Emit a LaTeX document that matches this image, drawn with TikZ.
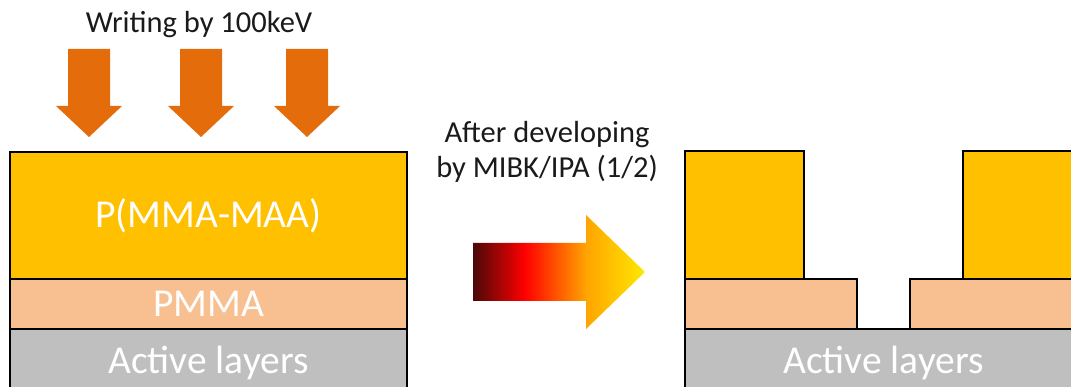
\documentclass[tikz,border=0pt]{standalone}
\usepackage{fontspec}
\setmainfont{Carlito}
\definecolor{resist}{HTML}{FFC000}
\definecolor{pmma}{HTML}{F8C091}
\definecolor{active}{HTML}{BFBFBF}
\definecolor{beam}{HTML}{E46C0A}
\definecolor{ink}{HTML}{1A1A1A}
\definecolor{gdark}{HTML}{4A0808}
\definecolor{gred}{HTML}{FF0000}
\definecolor{gorange}{HTML}{FFA500}
\definecolor{gyellow}{HTML}{FFE800}
\pgfdeclarehorizontalshading{devgrad}{100bp}{%
  color(0bp)=(gdark); color(25bp)=(gdark); color(40bp)=(gred);
  color(58bp)=(gorange); color(75bp)=(gyellow); color(100bp)=(gyellow)}
\tikzset{
  layer/.style={draw=black, line width=1.3pt},
  layertext/.style={text=white, font=\fontsize{39.5}{42}\selectfont, inner sep=0pt, anchor=base},
  caption/.style={text=ink, font=\fontsize{30.5}{35}\selectfont, inner sep=0pt, anchor=base},
  beamarrow/.style={fill=beam, draw=none},
}
\begin{document}
\begin{tikzpicture}[x=1pt,y=-1pt]
\useasboundingbox (0,0) rectangle (1071,387);
\clip (0,0) rectangle (1071,387);

% exposure arrows
\foreach \cx in {89,201,307}{
  \fill[beamarrow] (\cx-21,49) -- (\cx+21,49) -- (\cx+21,106) -- (\cx+33,106)
    -- (\cx,137) -- (\cx-33,106) -- (\cx-21,106) -- cycle;
}
\node[caption] (writing) at (199,33) {Writing by 100keV};

% resist stack before development
\filldraw[layer, fill=active] (10,329) rectangle (407,400);
\filldraw[layer, fill=pmma] (10,279) rectangle (407,329);
\filldraw[layer, fill=resist] (10,152) rectangle (407,279);
\node[layertext] (copolymer) at (208.5,228) {P(MMA-MAA)};
\node[layertext] (pmmalabel) at (208.5,317) {PMMA};
\node[layertext] (activeL) at (208.5,373) {Active layers};

% development step
\node[caption] (dev1) at (547,143) {After developing};
\node[caption] (dev2) at (547,178) {by MIBK/IPA (1/2)};
\shade[shading=devgrad] (473,243) -- (586,243) -- (586,215) -- (645,272)
  -- (586,329) -- (586,301) -- (473,301) -- cycle;

% resist stack after development
\filldraw[layer, fill=active] (685,329) rectangle (1082,400);
\filldraw[layer, fill=pmma] (685,279) rectangle (857,329);
\filldraw[layer, fill=pmma] (910,279) rectangle (1082,329);
\filldraw[layer, fill=resist] (685,151) rectangle (804,279);
\filldraw[layer, fill=resist] (963,151) rectangle (1082,279);
\node[layertext] (activeR) at (883.5,373) {Active layers};
\end{tikzpicture}
\end{document}
